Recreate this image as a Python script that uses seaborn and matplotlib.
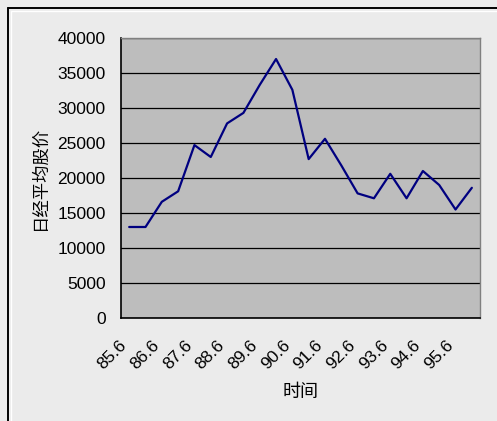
import numpy as np
import pandas as pd
import matplotlib
matplotlib.use("Agg")
import matplotlib.pyplot as plt
import matplotlib.transforms as mtransforms
import seaborn as sns

# Nikkei average, half-year points from 85.6 to 95.12
periods = ["85.6", "85.12", "86.6", "86.12", "87.6", "87.12", "88.6", "88.12",
           "89.6", "89.12", "90.6", "90.12", "91.6", "91.12", "92.6", "92.12",
           "93.6", "93.12", "94.6", "94.12", "95.6", "95.12"]
nikkei = [13000, 13000, 16600, 18100, 24700, 23000, 27800, 29300,
          33300, 37000, 32600, 22700, 25600, 21800, 17800, 17100,
          20600, 17100, 21000, 19000, 15500, 18600]
tick_labels = ["85.6", "86.6", "87.6", "88.6", "89.6", "90.6",
               "91.6", "92.6", "93.6", "94.6", "95.6"]

df = pd.DataFrame({"idx": np.arange(len(periods)), "period": periods, "value": nikkei})

sns.set_style("white")
plt.rcParams["font.family"] = ["Liberation Sans", "Noto Sans CJK SC", "DejaVu Sans"]
plt.rcParams["text.color"] = "black"
plt.rcParams["axes.labelcolor"] = "black"
plt.rcParams["xtick.color"] = "black"
plt.rcParams["ytick.color"] = "black"

fig = plt.figure(figsize=(4.97, 4.21), dpi=100, facecolor="#ebebeb")
ax = fig.add_axes([0.2435, 0.2447, 0.7223, 0.665])
ax.set_facecolor("#bdbdbd")

sns.lineplot(data=df, x="idx", y="value", ax=ax, color="#000080", linewidth=1.6)

ax.set_xlim(-0.5, len(periods) - 0.5)
ax.set_ylim(0, 40000)
ax.set_yticks(np.arange(0, 40001, 5000))
ax.yaxis.grid(True, color="black", linewidth=0.9)
ax.set_axisbelow(True)

# labels every other category, tick marks on category boundaries
ax.set_xticks(np.arange(0, len(periods), 2))
ax.set_xticklabels(tick_labels, rotation=45, ha="right", rotation_mode="anchor")
ax.set_xticks(np.arange(-0.5, len(periods), 1), minor=True)
ax.tick_params(axis="x", which="major", length=0, pad=14, labelsize=12.5)
ax.tick_params(axis="x", which="minor", direction="in", length=4, color="black")
ax.tick_params(axis="y", length=0, pad=11, labelsize=12.5)

shift = mtransforms.ScaledTranslation(-10 / 100, 0, fig.dpi_scale_trans)
for lbl in ax.get_xticklabels():
    lbl.set_transform(lbl.get_transform() + shift)

for side in ["left", "bottom"]:
    ax.spines[side].set_color("black")
    ax.spines[side].set_linewidth(1.2)
for side in ["top", "right"]:
    ax.spines[side].set_color("#808080")
    ax.spines[side].set_linewidth(1.0)

ax.set_xlabel("时间", fontsize=13, family=["Noto Sans CJK SC", "DejaVu Sans"], labelpad=8)
ax.set_ylabel("日经平均股价", fontsize=12.5, family=["Noto Sans CJK SC", "DejaVu Sans"], labelpad=6)

# outer chart frame (top and left edges visible), with light inner edge
fx, fy = 7.5 / 497, 1 - 7.5 / 421
fig.add_artist(plt.Line2D([fx, 1], [fy, fy], color="black", linewidth=1.4, transform=fig.transFigure))
fig.add_artist(plt.Line2D([fx, fx], [0, fy], color="black", linewidth=1.4, transform=fig.transFigure))
hx, hy = 10.5 / 497, 1 - 10.5 / 421
fig.add_artist(plt.Line2D([hx, 1], [hy, hy], color="white", linewidth=1.0, transform=fig.transFigure))
fig.add_artist(plt.Line2D([hx, hx], [0, hy], color="white", linewidth=1.0, transform=fig.transFigure))

fig.savefig("out.png", dpi=100, facecolor=fig.get_facecolor())
